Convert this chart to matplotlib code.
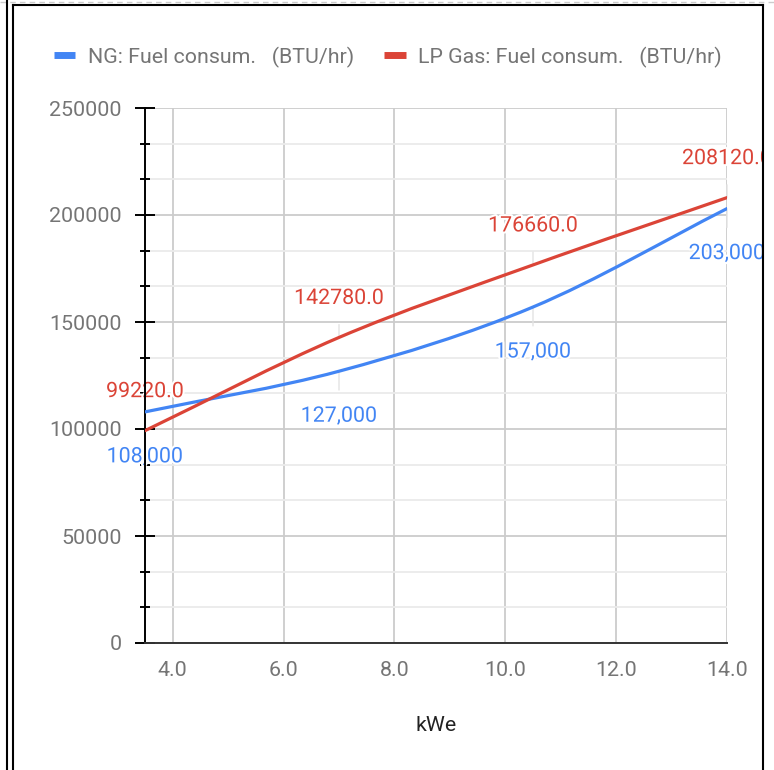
import numpy as np
import matplotlib
matplotlib.use("Agg")
import matplotlib.pyplot as plt
from matplotlib.path import Path
from matplotlib.patches import PathPatch
from matplotlib.lines import Line2D
from matplotlib.transforms import Bbox, TransformedBbox
import matplotlib.patheffects as pe

plt.rcParams['font.family'] = ['Roboto', 'DejaVu Sans']

# datos
kwe = [3.5, 7.0, 10.5, 14.0]
ng_fuel = [108000, 127000, 157000, 203000]
lp_fuel = [99220.0, 142780.0, 176660.0, 208120.0]
ng_name = "NG: Fuel consum.   (BTU/hr)"
lp_name = "LP Gas: Fuel consum.   (BTU/hr)"
x_ticks = [4.0, 6.0, 8.0, 10.0, 12.0, 14.0]
y_ticks = [0, 50000, 100000, 150000, 200000, 250000]

azul = "#4285f4"
rojo = "#db4437"
gris = "#757575"
fs = 15.4

W, H = 774, 770
fig = plt.figure(figsize=(W / 100, H / 100), dpi=100)
ax = fig.add_axes([145 / W, 1 - 643 / H, (727 - 145) / W, (643 - 108) / H])


def curva(xs, ys):
    # curva suave (bezier) que pasa por los puntos
    xs = np.asarray(xs, float)
    ys = np.asarray(ys, float)
    n = len(xs)
    tx = np.zeros(n)
    ty = np.zeros(n)
    for i in range(n):
        a = max(i - 1, 0)
        b = min(i + 1, n - 1)
        tx[i] = (xs[b] - xs[a]) / (b - a)
        ty[i] = (ys[b] - ys[a]) / (b - a)
    verts = [(xs[0], ys[0])]
    codes = [Path.MOVETO]
    for i in range(n - 1):
        verts += [(xs[i] + tx[i] / 3, ys[i] + ty[i] / 3),
                  (xs[i + 1] - tx[i + 1] / 3, ys[i + 1] - ty[i + 1] / 3),
                  (xs[i + 1], ys[i + 1])]
        codes += [Path.CURVE4] * 3
    return Path(verts, codes)


for ys, c in [(ng_fuel, azul), (lp_fuel, rojo)]:
    ax.add_patch(PathPatch(curva(kwe, ys), facecolor="none", edgecolor=c,
                           lw=2.3, zorder=3, capstyle="round"))

ax.set_xlim(3.5, 14)
ax.set_ylim(0, 250000)
ax.set_xticks(x_ticks)
ax.set_xticklabels(["{:.1f}".format(v) for v in x_ticks])
ax.set_yticks(y_ticks)
ax.set_yticklabels([str(v) for v in y_ticks])
ax.set_yticks(np.arange(0, 250001, 50000 / 3), minor=True)

ax.set_axisbelow(True)
ax.grid(True, which="major", axis="both", color="#cccccc", lw=1.3)
ax.grid(True, which="minor", axis="y", color="#ebebeb", lw=1.3)

for s in ["top", "right"]:
    ax.spines[s].set_visible(False)
ax.spines["left"].set_color("black")
ax.spines["left"].set_linewidth(1.4)
ax.spines["bottom"].set_color("#333333")
ax.spines["bottom"].set_linewidth(1.4)
ax.spines["bottom"].set_bounds(3.5, 14)

ax.tick_params(axis="x", length=0, pad=13, labelsize=fs, labelcolor=gris)
ax.tick_params(axis="y", which="major", direction="inout", length=15,
               width=1.4, color="black", pad=9.5, labelsize=fs, labelcolor=gris)
ax.tick_params(axis="y", which="minor", direction="inout", length=7,
               width=1.4, color="black")

ax.set_xlabel("kWe", fontsize=fs, color="#222222", labelpad=26)

# etiquetas de los puntos
clip = TransformedBbox(Bbox([[0, 0], [763 / W, 1]]), fig.transFigure)
halo = [pe.withStroke(linewidth=3, foreground="white")]
for x, v in zip(kwe, lp_fuel):
    a = ax.annotate("{:.1f}".format(v), (x, v), xytext=(0, 39),
                    textcoords="offset pixels", ha="center", va="center",
                    fontsize=fs, color=rojo, zorder=2.5, path_effects=halo,
                    arrowprops=dict(arrowstyle="-", color="#e3e3e3", lw=1,
                                    shrinkA=10, shrinkB=0))
    a.set_clip_box(clip)
    a.set_clip_on(True)
for x, v in zip(kwe, ng_fuel):
    a = ax.annotate("{:,}".format(v), (x, v), xytext=(0, -45),
                    textcoords="offset pixels", ha="center", va="center",
                    fontsize=fs, color=azul, zorder=2.5, path_effects=halo,
                    arrowprops=dict(arrowstyle="-", color="#e3e3e3", lw=1,
                                    shrinkA=10, shrinkB=0))
    a.set_clip_box(clip)
    a.set_clip_on(True)

# leyenda
h1 = Line2D([], [], color=azul, lw=5, solid_capstyle="butt")
h2 = Line2D([], [], color=rojo, lw=5, solid_capstyle="butt")
leg = fig.legend([h1, h2], [ng_name, lp_name], loc="center",
                 bbox_to_anchor=(388 / W, 1 - 57 / H), ncol=2, frameon=False,
                 fontsize=fs, handlelength=1.0, handletextpad=0.6,
                 columnspacing=1.4, labelcolor=gris)

# marco de la captura
def linea(x0, y0, x1, y1, **kw):
    fig.add_artist(Line2D([x0 / W, x1 / W], [1 - y0 / H, 1 - y1 / H],
                          transform=fig.transFigure, zorder=10, **kw))

linea(0, 2, W, 2, color="#cccccc", lw=1, ls=(0, (4, 3)))
linea(7, 0, 7, H, color="black", lw=1.5)
linea(13, 5, 13, H, color="black", lw=1.5)
linea(13, 5, 763, 5, color="black", lw=1.5)
linea(763, 5, 763, H, color="black", lw=1.5)

fig.savefig("out.png", dpi=100)
